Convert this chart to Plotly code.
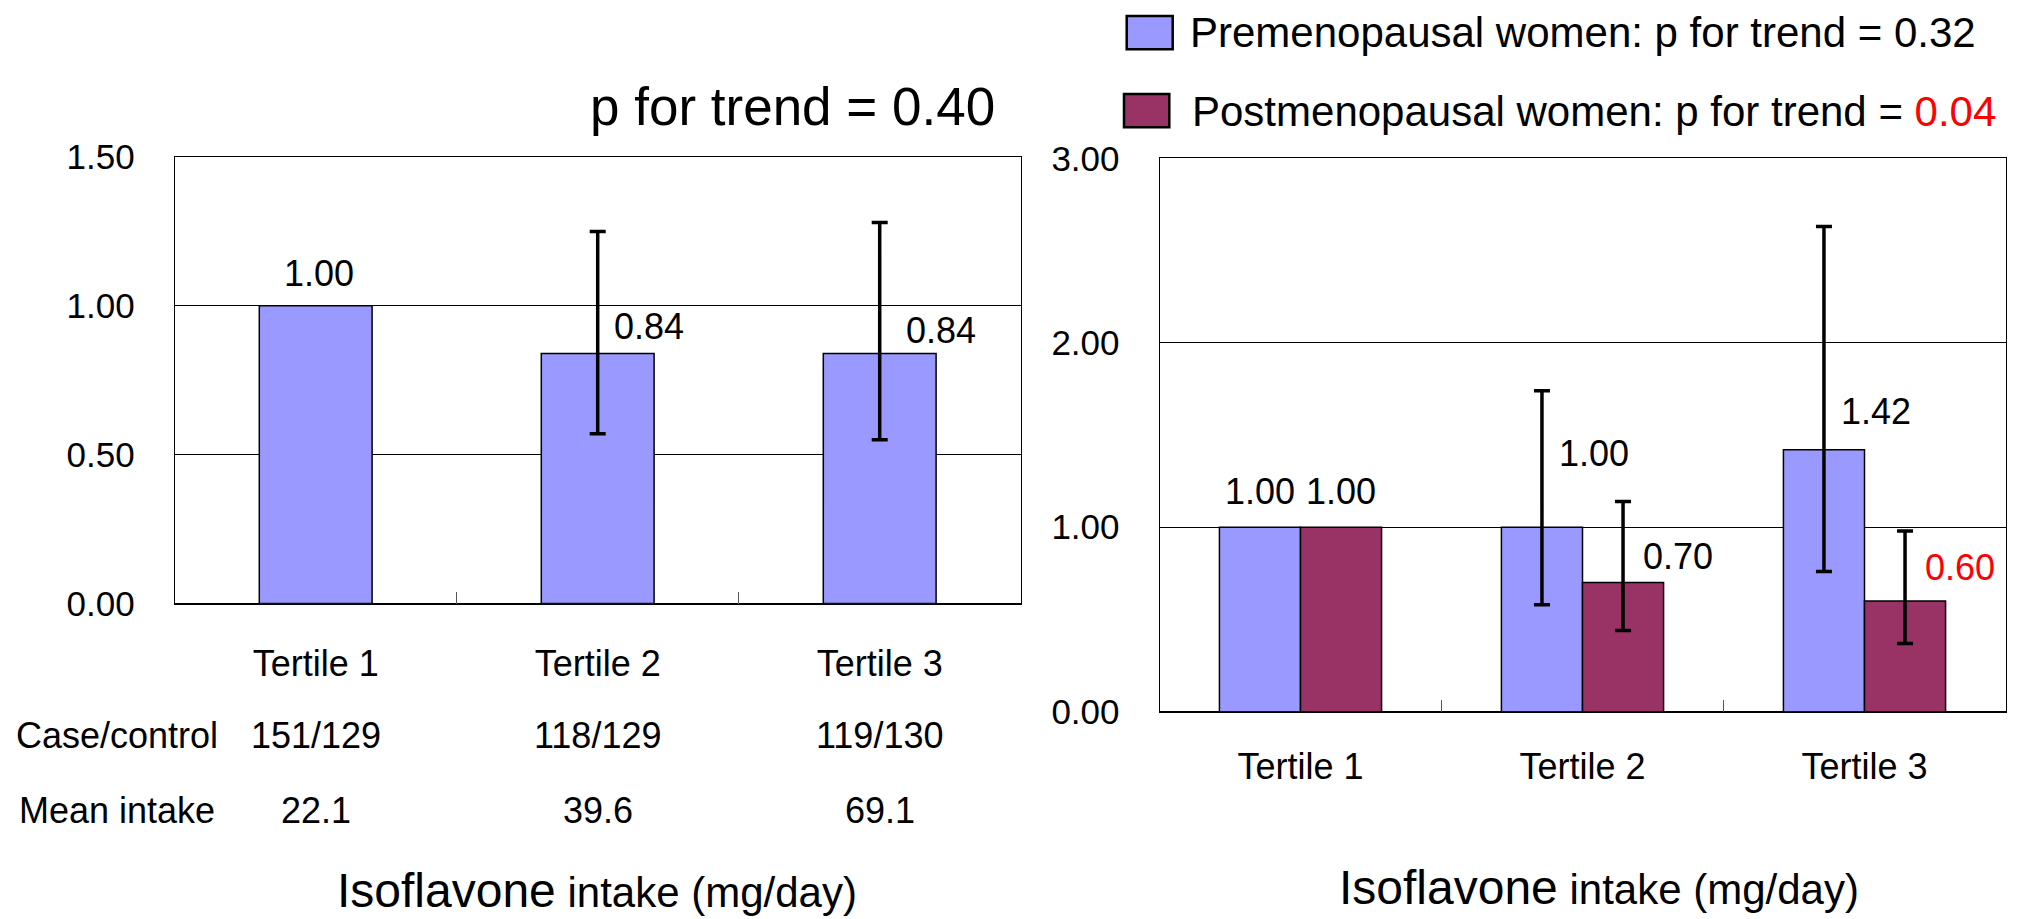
import plotly.graph_objects as go

# ---------------- data ----------------
tertiles = ["Tertile 1", "Tertile 2", "Tertile 3"]

overall_or = [1.00, 0.84, 0.84]
overall_ci_low = [None, 0.57, 0.55]
overall_ci_high = [None, 1.25, 1.28]

pre_or = [1.00, 1.00, 1.42]
pre_ci_low = [None, 0.58, 0.76]
pre_ci_high = [None, 1.74, 2.63]

post_or = [1.00, 0.70, 0.60]
post_ci_low = [None, 0.44, 0.37]
post_ci_high = [None, 1.14, 0.98]

case_control = ["151/129", "118/129", "119/130"]
mean_intake = ["22.1", "39.6", "69.1"]

overall_p = "0.40"
pre_p = "0.32"
post_p = "0.04"

# ---------------- style ----------------
W, H = 2027, 919
FONT = "Liberation Sans, Arial, Helvetica, sans-serif"
BLUE = "#9999FF"
MAROON = "#993366"
RED = "#FF0000"

L_DOM_X = (174.7 / W, 1020.7 / W)
L_DOM_Y = (1 - 603.5 / H, 1 - 157.0 / H)
R_DOM_X = (1159.5 / W, 2005.5 / W)
R_DOM_Y = (1 - 711.7 / H, 1 - 158.3 / H)
BARGAP = 0.425


def err_plus(vals, hi):
    # "NaN" (string) makes plotly.js skip the error bar for the reference category
    return ["NaN" if h is None else h - v for v, h in zip(vals, hi)]


def err_minus(vals, lo):
    return ["NaN" if l is None else v - l for v, l in zip(vals, lo)]


def err_style(vals, lo, hi):
    return dict(type="data", symmetric=False,
                array=err_plus(vals, hi), arrayminus=err_minus(vals, lo),
                color="black", thickness=3.5, width=8)


fig = go.Figure()

fig.add_trace(go.Bar(
    x=tertiles, y=overall_or, name="All women", xaxis="x", yaxis="y",
    width=0.4, marker=dict(color=BLUE, line=dict(color="black", width=1.5)),
    error_y=err_style(overall_or, overall_ci_low, overall_ci_high),
    showlegend=False, offsetgroup="a"))

fig.add_trace(go.Bar(
    x=tertiles, y=pre_or, name="Premenopausal women", xaxis="x2", yaxis="y2",
    marker=dict(color=BLUE, line=dict(color="black", width=1.5)),
    error_y=err_style(pre_or, pre_ci_low, pre_ci_high),
    showlegend=False))

fig.add_trace(go.Bar(
    x=tertiles, y=post_or, name="Postmenopausal women", xaxis="x2", yaxis="y2",
    marker=dict(color=MAROON, line=dict(color="black", width=1.5)),
    error_y=err_style(post_or, post_ci_low, post_ci_high),
    showlegend=False))

annotations = []


def ann(**kw):
    d = dict(showarrow=False, xanchor="center", yanchor="middle")
    d.update(kw)
    annotations.append(d)


# data labels - left panel
left_dx = [3, 51, 61]
left_dy = [32, 27, 23]
for i, (c, v) in enumerate(zip(tertiles, overall_or)):
    ann(x=c, y=v, xref="x", yref="y", text=f"{v:.2f}",
        xshift=left_dx[i], yshift=left_dy[i], font=dict(size=36, color="black"))

# data labels - right panel
cat_px = (R_DOM_X[1] - R_DOM_X[0]) * W / 3
half_off = (1 - BARGAP) / 4 * cat_px
pre_dx = [0, 52, 52]
pre_dy = [36, 74, 38]
post_dx = [0, 55, 55]
post_dy = [36, 26, 34]
post_colors = ["black", "black", RED]
for i, (c, v) in enumerate(zip(tertiles, pre_or)):
    ann(x=c, y=v, xref="x2", yref="y2", text=f"{v:.2f}",
        xshift=-half_off + pre_dx[i], yshift=pre_dy[i], font=dict(size=36, color="black"))
for i, (c, v) in enumerate(zip(tertiles, post_or)):
    ann(x=c, y=v, xref="x2", yref="y2", text=f"{v:.2f}",
        xshift=half_off + post_dx[i], yshift=post_dy[i], font=dict(size=36, color=post_colors[i]))

# table rows below left panel
row_y = {"Case/control": 1 - 735.8 / H, "Mean intake": 1 - 810.2 / H}
ann(x=116.7 / W, y=row_y["Case/control"], xref="paper", yref="paper",
    text="Case/control", font=dict(size=36))
ann(x=116.7 / W, y=row_y["Mean intake"], xref="paper", yref="paper",
    text="Mean intake", font=dict(size=36))
for c, cc, mi in zip(tertiles, case_control, mean_intake):
    ann(x=c, y=row_y["Case/control"], xref="x", yref="paper", text=cc, font=dict(size=36))
    ann(x=c, y=row_y["Mean intake"], xref="x", yref="paper", text=mi, font=dict(size=36))

# left title
ann(x=792.4 / W, y=1 - 106.3 / H, xref="paper", yref="paper",
    text=f"p for trend = {overall_p}", font=dict(size=53))

# x axis titles
xtitle = "<span style='font-size:48px'>Isoflavone</span> intake (mg/day)"
ann(x=596.8 / W, y=1 - 890.5 / H, xref="paper", yref="paper", text=xtitle, font=dict(size=42))
ann(x=1598.5 / W, y=1 - 887.0 / H, xref="paper", yref="paper", text=xtitle, font=dict(size=42))

# custom legend
ann(x=1188.3 / W, y=1 - 32.5 / H, xref="paper", yref="paper", xanchor="left",
    text=f"Premenopausal women: p for trend = {pre_p}", font=dict(size=42))
ann(x=1190 / W, y=1 - 111.4 / H, xref="paper", yref="paper", xanchor="left",
    text=f"Postmenopausal women: p for trend = <span style='color:{RED}'>{post_p}</span>",
    font=dict(size=42))

shapes = [
    dict(type="rect", xref="paper", yref="paper",
         x0=1126.7 / W, x1=1172.7 / W, y0=1 - 49.3 / H, y1=1 - 16 / H,
         fillcolor=BLUE, line=dict(color="black", width=2.5)),
    dict(type="rect", xref="paper", yref="paper",
         x0=1124 / W, x1=1169.3 / W, y0=1 - 127.3 / H, y1=1 - 94 / H,
         fillcolor=MAROON, line=dict(color="black", width=2.5)),
]

xcommon = dict(type="category", showline=True, linecolor="black", linewidth=1, mirror=True,
               ticks="inside", tickson="boundaries", ticklen=12, tickcolor="#555", tickwidth=1,
               showgrid=False, tickfont=dict(size=36, color="black"), zeroline=False,
               automargin=False)
ycommon = dict(showline=True, linecolor="black", linewidth=1, mirror=True,
               showgrid=True, gridcolor="black", gridwidth=1,
               zeroline=True, zerolinecolor="black", zerolinewidth=2,
               ticks="", tickformat=".2f", tickfont=dict(size=35, color="black"),
               ticklabelstandoff=32, automargin=False)

fig.update_layout(
    width=W, height=H, margin=dict(l=0, r=0, t=0, b=0, pad=0, autoexpand=False),
    paper_bgcolor="white", plot_bgcolor="white",
    font=dict(family=FONT, color="black", size=36),
    barmode="group", bargap=BARGAP, bargroupgap=0,
    showlegend=False,
    xaxis=dict(domain=list(L_DOM_X), anchor="y", ticklabelstandoff=28, **xcommon),
    yaxis=dict(domain=list(L_DOM_Y), anchor="x", range=[0, 1.5],
               tickvals=[0, 0.5, 1.0, 1.5], **ycommon),
    xaxis2=dict(domain=list(R_DOM_X), anchor="y2", ticklabelstandoff=23, **xcommon),
    yaxis2=dict(domain=list(R_DOM_Y), anchor="x2", range=[0, 3],
                tickvals=[0, 1, 2, 3], **ycommon),
    annotations=annotations,
    shapes=shapes,
)

fig.write_html("out.html")
